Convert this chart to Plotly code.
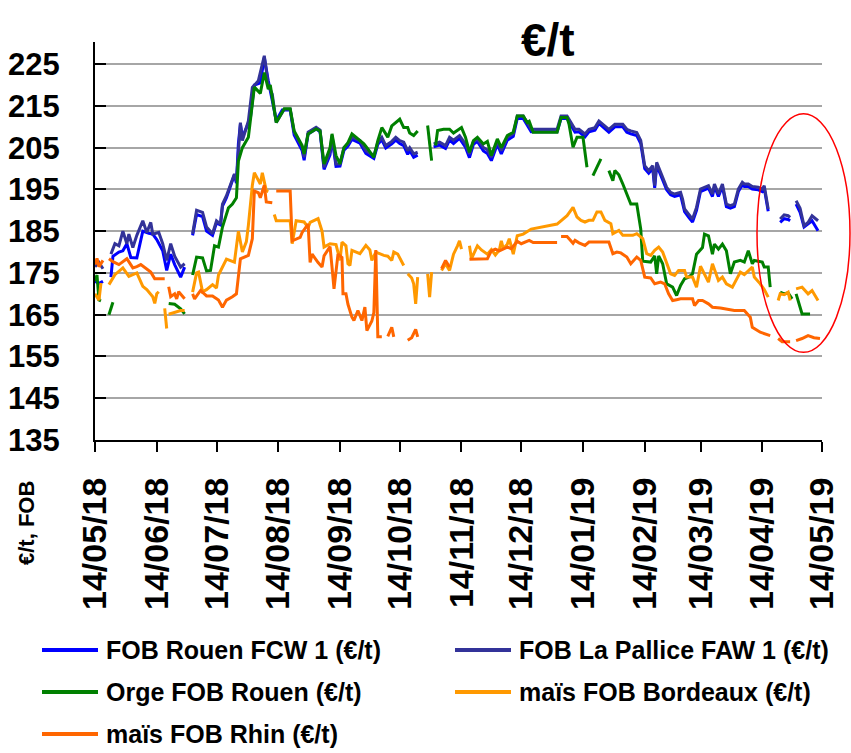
import datetime as dt
import plotly.graph_objects as go

# Daily FOB export quotes, (day offset from 14/05/2018, €/t); None marks a gap in the quotes
START = dt.datetime(2018, 5, 14)

tick_labels = ["14/05/18", "14/06/18", "14/07/18", "14/08/18", "14/09/18", "14/10/18",
               "14/11/18", "14/12/18", "14/01/19", "14/02/19", "14/03/19", "14/04/19",
               "14/05/19"]

series_names = ["FOB Rouen FCW 1 (€/t)", "FOB La Pallice FAW 1 (€/t)",
                "Orge FOB Rouen (€/t)", "maïs FOB Bordeaux (€/t)", "maïs FOB Rhin (€/t)"]
series_colors = ["#0000FF", "#333399", "#008000", "#FF9900", "#FF6600"]

rouen_fcw1 = [
    (0, 173), (2, 172.5), (4, 173), (6, None),
    (8, 174), (9, 179), (12, 180), (14, 180.3), (16, 182), (18, 178.7), (21, 178.6), (24, 185),
    (27, 184.5), (29, 184.3), (31, 183), (34, 180.3), (36, 175.6), (38, 179.5), (40, 177),
    (43, 174), (45, 176.4), (47, None),
    (49, 184), (51, 189), (54, 188.5), (56, 185), (59, 184), (61, 187), (63, 186.5), (64, 191),
    (66, 193), (68, 196), (70, 198.5), (71, 196.5), (72, 206), (73, 210.6), (74, 207.5),
    (78, 212), (80, 220), (83, 220.5), (85, 226.6), (87, 221), (91, 211.5), (94, 214),
    (98, 214), (100, 208), (104, 204.3), (105, 202), (107, 208.3), (111, 209.5), (113, 208.8),
    (115, 199.8), (118, 203.3), (119, 207.4), (121, 200.5), (123, 200.6), (125, 204.4),
    (127, 205.4), (129, 207), (133, 206.1), (136, 203.6), (140, 202.4), (142, 205.8),
    (144, 206.9), (146, 204.9), (149, 205.9), (151, 206.8), (153, 206), (155, 205.5),
    (157, 203.4), (158, 204.3), (160, 202.7), (162, 203.2), (164, None),
    (170, 205.2), (173, 205.6), (176, 204.8), (178, 206.8), (180, 206), (183, 207.2),
    (186, 205.1), (188, 202.6), (190, 205.8), (192, 206.5), (195, 204.2), (197, 203.6),
    (199, 201.9), (201, 204.8), (202, 205.8), (204, 203.5), (206, 205.8), (207, 206.8),
    (210, 207.7), (212, 212), (215, 212), (217, 210.4), (219, 208.8), (232, 208.8), (234, 212),
    (237, 212), (238, 211.2), (241, 208.7), (243, 208.8), (246, 207.6), (248, 208.8),
    (251, 209.2), (253, 210.8), (256, 209.5), (258, 208.7), (261, 210), (265, 210),
    (267, 208.7), (269, 208.3), (272, 207.9), (274, 206), (276, 200), (278, 198.9), (280, 200),
    (281, 195.4), (282, 200.8), (285, 197.3), (287, 194.9), (289, 193.7), (291, 193.3),
    (294, 193.7), (295, 192), (296, 189.7), (298, 188.4), (300, 187.2), (302, 190),
    (304, 194.5), (306, 194.9), (308, 195.3), (310, 193.3), (311, 195.7), (313, 193.3),
    (315, 195.7), (317, 190.9), (319, 190.5), (321, 190.9), (323, 194.5), (325, 196.1),
    (326, 195.7), (328, 195.7), (330, 195.1), (333, 194.9), (335, 194.5), (336, 195.3),
    (338, 189.8), (340, None),
    (344, 187.1), (346, 188), (348, 187.8), (349, 187.5), (351, None),
    (352, 191.5), (354, 189.5), (356, 186), (358, 186.8), (360, 187.5), (363, 185.1),
]

pallice_faw1 = [
    (0, 176.5), (2, 177.5), (4, 176), (6, None),
    (8, 179.5), (10, 182), (12, 181.5), (14, 185), (16, 182), (17, 184.3), (19, 181.1),
    (21, 184), (24, 187.5), (26, 184.7), (28, 187.1), (29, 184.3), (32, 184.7), (34, 182),
    (36, 178), (38, 182), (40, 179), (43, 176.4), (45, 177.2), (47, None),
    (49, 184.4), (51, 190), (54, 189.5), (56, 186), (59, 184.4), (61, 187.5), (63, 186.7),
    (64, 191.5), (66, 193.5), (68, 196.3), (70, 198.7), (71, 197), (73, 211), (74, 206.7),
    (77, 211.4), (79, 219.4), (82, 221), (85, 227), (87, 220), (89, 217.8), (91, 211),
    (95, 214.2), (98, 214.2), (100, 208.7), (104, 205.1), (105, 202.7), (107, 208.7),
    (111, 209.9), (113, 209.2), (115, 200.3), (118, 204), (119, 207.9), (121, 201.1),
    (123, 201.1), (125, 205), (127, 205.9), (129, 207.5), (133, 206.7), (136, 204.3),
    (140, 203.1), (142, 206.3), (144, 207.5), (146, 205.5), (149, 206.5), (151, 207.5),
    (153, 206.7), (155, 206.3), (157, 204.3), (158, 205), (160, 203.5), (162, 203.9),
    (164, None),
    (170, 205.9), (173, 206.3), (176, 205.5), (178, 207.5), (180, 206.8), (183, 207.9),
    (186, 205.9), (188, 203.5), (190, 206.5), (192, 207.1), (195, 205), (197, 204.5),
    (199, 202.7), (201, 205.5), (202, 206.5), (204, 204.3), (206, 206.5), (207, 207.5),
    (210, 208.3), (212, 212.6), (215, 212.6), (217, 211), (219, 209.4), (232, 209.4),
    (234, 212.6), (237, 212.6), (238, 211.8), (241, 209.4), (243, 209.4), (246, 208.3),
    (248, 209.4), (251, 209.8), (253, 211.4), (256, 210.2), (258, 209.4), (261, 210.6),
    (265, 210.6), (267, 209.4), (269, 209), (272, 208.6), (274, 206.7), (276, 200.7),
    (278, 199.5), (280, 200.7), (281, 195.9), (282, 201.5), (285, 197.9), (287, 195.5),
    (289, 194.3), (291, 193.9), (294, 194.3), (295, 192.7), (296, 190.3), (298, 189.1),
    (300, 187.9), (302, 190.7), (304, 195.1), (306, 195.5), (308, 195.9), (310, 193.9),
    (311, 196.3), (313, 193.9), (315, 196.3), (317, 191.5), (319, 191.1), (321, 191.5),
    (323, 195.1), (325, 196.7), (326, 196.3), (328, 196.3), (330, 195.7), (333, 195.5),
    (335, 195.1), (336, 195.9), (338, 190.3), (340, None),
    (344, 187.9), (346, 188.9), (348, 188.7), (349, 188.3), (351, None),
    (352, 192.3), (354, 190.5), (356, 186.3), (358, 187.1), (360, 188.7), (363, 187.5),
]

orge_rouen = [
    (0, 173), (1, 174.5), (2, 168.5), (3, 168.3), (4, None),
    (7, 165), (9, 168), (10, None),
    (37, 167.7), (40, 167.5), (43, 166.4), (45, 165.2), (47, None),
    (49, 174.5), (51, 178.8), (54, 178.6), (56, 175.5), (58, 175.6), (60, 181.5), (62, 181.2),
    (64, 186), (67, 190.6), (69, 191.5), (71, 193), (72, 201.8), (74, 205), (77, 207.5),
    (80, 219.5), (83, 218), (85, 223), (87, 219), (88, 220), (91, 211), (95, 214.3),
    (98, 214.3), (100, 209), (104, 205.5), (105, 203.5), (107, 208.3), (111, 209.5),
    (113, 209), (115, 201.1), (118, 205), (119, 208.3), (121, 203.1), (123, 201.1),
    (125, 205), (127, 206.2), (129, 208.3), (131, 207.5), (133, 206.7), (135, 205.9),
    (137, 204.7), (140, 202.7), (142, 206.7), (144, 209.8), (146, 208.3), (147, 207.5),
    (149, 210.2), (150, 210.6), (153, 211.8), (155, 209.8), (157, 209.8), (158, 208.5),
    (160, 207.9), (162, 209), (164, None),
    (167, 210.3), (169, 201.9), (170, None),
    (171, 205.5), (172, 209.1), (175, 209.4), (178, 209.4), (180, 208.5), (182, 209.2),
    (184, 209.8), (186, 207.5), (188, 203.9), (190, 206.7), (192, 207.5), (195, 205.9),
    (197, 206.5), (199, 203.1), (201, 205.9), (202, 207.1), (204, 205), (206, 207.1),
    (207, 207.9), (210, 208.7), (212, 212.6), (215, 212.6), (217, 211), (218, 211.3),
    (220, 208.7), (232, 208.7), (234, 212.2), (237, 212.2), (238, 210.6), (240, 205.1),
    (242, 207.5), (245, 207.5), (247, 200.3), (248, None),
    (250, 198.3), (254, 202.3), (256, None),
    (258, 199.5), (260, 197.1), (261, 199.5), (263, 198.5), (265, 196.3), (267, 193.9),
    (269, 191.5), (272, 191.5), (274, 185.5), (275, 177.8), (279, 177.6), (281, 179.1),
    (282, 174.8), (283, 179.1), (285, 177.2), (287, 172.4), (290, 171.6), (292, 169.6),
    (294, 172), (296, 173.6), (298, 174), (300, 174.8), (302, 179.5), (305, 181.1),
    (306, 184.3), (308, 183.9), (310, 179.5), (311, 181.9), (313, 180.7), (315, 181.9),
    (317, 180.3), (319, 174.8), (321, 177.6), (324, 178), (326, 177.6), (328, 180.3),
    (330, 177.2), (331, 178), (335, 177.6), (336, 176.4), (338, 176.4), (339, 171.6),
    (341, None),
    (344, 170.4), (346, 170), (348, 170.2), (350, 168.8), (351, None),
    (352, 170), (354, 166.8), (355, 165.2), (359, 165.2),
]

mais_bordeaux = [
    (0, 170), (2, 168.5), (3, 172.6), (5, None),
    (7, 172.2), (10, 174.6), (14, 176.2), (17, 174.2), (21, 175), (24, 171.8), (26, 171),
    (29, 169.3), (30, 167.7), (31, 170), (32, 170.5), (34, None),
    (35, 166.5), (36, 161.7), (36.5, None),
    (37, 165.1), (40, 165.5), (43, 166), (45, 166), (47, None),
    (49, 170.4), (51, 175), (52, 175.2), (54, 170.5), (56, 171), (59, 172.2), (61, 171.4),
    (62, 174.5), (66, 178.3), (70, 177.6), (72, 185), (74, 180), (76, 182.5), (77, 186.4),
    (79, 196), (80, 199), (83, 196.3), (84, 199), (86, 194.7), (87, 194.5), (89, None),
    (90, 189), (91, 187.5), (98, 187.5), (99, 182), (101, 187.5), (105, 187.2), (107, 185.9),
    (108, 187.1), (112, 188), (114, 185), (115, 181.2), (118, 182), (121, 181.8), (123, 178),
    (124, 182.4), (126, 181.5), (127, 177.2), (128, 176.8), (129, 180.4), (133, 179.6),
    (136, 181.6), (138, 180.5), (139, 178), (141, 180), (145, 179.2), (147, 179), (149, 178),
    (150, 180), (152, 179.5), (155, 176.8), (156, None),
    (157, 174.8), (159, 173.8), (160, 172.4), (161, 167.6), (162, 174), (164, None),
    (167, 174.8), (168, 169.2), (169, 175.2), (171, None),
    (174, 175.6), (176, 177.2), (178, 175.6), (180, 179.5), (182, 181.5), (183, 182.7),
    (184, 180.7), (186, None),
    (188, 181.5), (189, 178.4), (192, 181.5), (194, 180.5), (197, 179.5), (199, 180.6),
    (201, 179.3), (203, 180.5), (204, 182.7), (205, 180.8), (207, 181.9), (208, 183.2),
    (210, 179.5), (212, 183.9), (215, 184.3), (219, 185.5), (232, 186.7), (234, 187.5),
    (237, 188.7), (240, 190.7), (242, 188.4), (244, 187.6), (246, 187.2), (248, 187.6),
    (250, 187.6), (252, 189.6), (254, 189.6), (256, 187.6), (259, 186.8), (260, 184.4),
    (263, 185.2), (265, 184), (267, 184), (270, 184), (272, 184.4), (275, 183.2),
    (277, 179.6), (279, 179.2), (281, 180.4), (283, 181.2), (285, 180), (287, 177.2),
    (289, 174.8), (291, 174.4), (293, 175.6), (296, 175.6), (297, 174), (300, 174),
    (302, 171.6), (304, 176.6), (306, 174.5), (308, 172.8), (310, 177.2), (313, 173.2),
    (315, 174), (317, 172.4), (320, 171.6), (322, 173.5), (324, 175.2), (326, 174.6),
    (328, 175.6), (330, 176.4), (331, 174), (334, 172.4), (336, 171), (338, 169.2),
    (340, None),
    (343, 168.4), (344, 170), (346, 169.8), (348, 170.4), (349, 168.4), (351, None),
    (352, 171.2), (355, 171.6), (358, 170), (360, 170.8), (363, 168.4),
]

mais_rhin = [
    (0, 177), (1, 178.5), (2, 176.5), (4, 178), (5, None),
    (7, 178.4), (9, 177.7), (12, 177), (16, 178.4), (19, 176.2), (21, 176.5), (23, 177),
    (26, 175.8), (28, 175.2), (30, 173.6), (35, 173.6), (36, None),
    (37, 171.7), (38, 169.3), (40, 170), (41, 168.8), (42, 170.5), (44, 169.3), (45, 168.8),
    (47, None),
    (49, 170), (50, 168.8), (53, 170.8), (56, 169.5), (59, 169.5), (62, 168.5), (64, 166.8),
    (66, 168.5), (69, 169.3), (71, 170), (73, 178.4), (77, 179.2), (79, 183.2), (80, 194.6),
    (82, 194.2), (83, 193), (85, 196), (86, 192), (89, 191.8), (90, None),
    (91, 194.6), (98, 194.6), (99, 182.7), (103, 183.5), (104, 184.7), (107, 186.7),
    (108, 177.5), (109, 179.5), (112, 177.5), (114, 176.4), (115, 179.1), (118, 181.3),
    (119, 176.4), (120, 171.2), (122, 179.5), (124, 178.7), (124.5, 170), (126, 170),
    (127, 167.5), (129, 164.4), (130, 163.6), (132, 166), (134, 163.6), (135.5, 166.8),
    (136.5, 161.2), (139, 163.5), (140, 165.5), (141, 180.5), (142, 159.7), (144, 159.7),
    (145, None),
    (147, 159.8), (149, 162), (150, 159.7), (151, None),
    (157, 158.9), (159, 159.5), (161, 161.5), (162, 159.7), (163, None),
    (174, 176), (176, 178), (178, 176.4), (180, None),
    (188, 178.3), (194, 178.3), (197, 178.4), (199, 180.3), (201, 180.7), (203, 180.3),
    (207, 181.2), (209, 180.8), (212, 182.6), (214, 182), (218, 182.8), (220, 182.3),
    (232, 182.3), (233, None),
    (234, 183.7), (237, 183.7), (240, 182.1), (241, 182.8), (243, 182.2), (246, 181.6),
    (248, 182.4), (258, 182.4), (260, 179.6), (262, 180), (264, 179.8), (267, 178.8),
    (269, 177.2), (272, 178.8), (274, 178), (275, 175.6), (276, 174), (279, 173.8),
    (281, 172.4), (284, 172.8), (286, 172.4), (288, 170), (290, 168.4), (292, 168.6),
    (294, 168.8), (300, 168.8), (301, 167.2), (303, 168.4), (305, 168.4), (308, 167.6),
    (310, 166.8), (314, 166.6), (317, 166.4), (321, 166), (326, 166), (329, 164.4),
    (330, 162), (334, 160.8), (339, 160), (341, None),
    (343, 159.3), (345, 158.5), (349, 158.5), (350, None),
    (352, 158.8), (355, 159.3), (358, 160), (361, 159.5), (364, 159.3),
]

all_series = [rouen_fcw1, pallice_faw1, orge_rouen, mais_bordeaux, mais_rhin]

FONT = "Arial, 'Liberation Sans', sans-serif"


def to_xy(pairs):
    xs = [START + dt.timedelta(days=d) for d, _ in pairs]
    ys = [v for _, v in pairs]
    return xs, ys


fig = go.Figure()
for name, color, pairs in zip(series_names, series_colors, all_series):
    xs, ys = to_xy(pairs)
    fig.add_trace(go.Scatter(
        x=xs, y=ys, name=name, mode="lines", connectgaps=False,
        line=dict(color=color, width=3), showlegend=False,
    ))

tick_dates = [dt.datetime.strptime(t, "%d/%m/%y") for t in tick_labels]

# plot area in pixels: x 95..822, y 42..440
L, R, T, B = 95, 822, 42, 440
W, H = 851, 753


def px_x(px):
    return (px - L) / (R - L)


def px_y(py):
    return (B - py) / (B - T)


fig.update_layout(
    width=W, height=H,
    margin=dict(l=L, r=W - R, t=T, b=H - B, pad=0),
    plot_bgcolor="white", paper_bgcolor="white",
    font=dict(family=FONT, color="black"),
    showlegend=False,
)

fig.update_xaxes(
    type="date", range=[tick_dates[0], tick_dates[-1]],
    tickvals=tick_dates, ticktext=[f"<b>{t}</b>" for t in tick_labels],
    tickangle=-90, tickfont=dict(size=34, family=FONT, color="black"),
    showgrid=False, zeroline=False,
    showline=True, linecolor="black", linewidth=2,
    ticks="outside", ticklen=10, tickwidth=2, tickcolor="black",
    ticklabelstandoff=12, automargin=False,
)

fig.update_yaxes(
    range=[135, 230.3], tickvals=list(range(135, 226, 10)),
    ticktext=[f"<b>{v}</b>" for v in range(135, 226, 10)],
    tickfont=dict(size=31, family=FONT, color="black"),
    showgrid=True, gridcolor="#A6A6A6", gridwidth=2, zeroline=False,
    showline=True, linecolor="black", linewidth=2,
    ticks="inside", ticklen=11, tickwidth=2, tickcolor="black",
    ticklabelstandoff=27, automargin=False,
)

annotations = [
    dict(text="<b>€/t</b>", x=px_x(548), y=px_y(40), xref="paper", yref="paper",
         showarrow=False, xanchor="center", yanchor="middle",
         font=dict(size=46, family=FONT, color="black")),
    dict(text="<b>€/t, FOB</b>", x=px_x(26), y=px_y(523), xref="paper", yref="paper",
         showarrow=False, xanchor="center", yanchor="middle", textangle=-90,
         font=dict(size=22, family=FONT, color="black")),
]

# two-column legend below the axis labels
legend_slots = [(42, 650), (455, 650), (42, 692), (455, 692), (42, 734)]
shapes = []
for (lx, ly), name, color in zip(legend_slots, series_names, series_colors):
    shapes.append(dict(type="line", xref="paper", yref="paper",
                       x0=px_x(lx), x1=px_x(lx + 56), y0=px_y(ly), y1=px_y(ly),
                       line=dict(color=color, width=4)))
    annotations.append(dict(text=f"<b>{name}</b>", x=px_x(lx + 62), y=px_y(ly),
                            xref="paper", yref="paper", showarrow=False,
                            xanchor="left", yanchor="middle",
                            font=dict(size=25, family=FONT, color="black")))

# highlight of the most recent quotes
shapes.append(dict(type="circle", xref="paper", yref="y",
                   x0=px_x(757), x1=px_x(850), y0=156, y1=213.1,
                   line=dict(color="red", width=1.5)))

fig.update_layout(annotations=annotations, shapes=shapes)

fig.write_html("out.html")
